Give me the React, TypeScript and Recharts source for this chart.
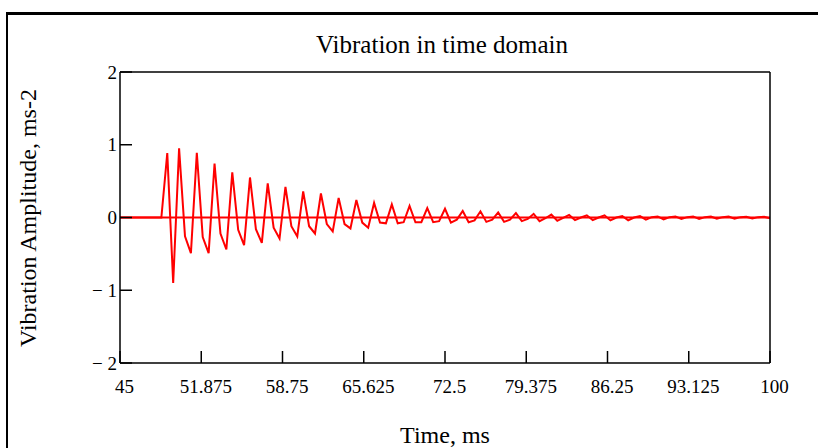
import {
  LineChart,
  Line,
  XAxis,
  YAxis,
  ReferenceLine,
} from "recharts";

const FONT = '"Liberation Serif", "Times New Roman", serif';

// sample times, ms (0.5 ms step)
const TIME = [
  45, 45.5, 46, 46.5, 47, 47.5, 48, 48.5, 49, 49.5,
  50, 50.5, 51, 51.5, 52, 52.5, 53, 53.5, 54, 54.5,
  55, 55.5, 56, 56.5, 57, 57.5, 58, 58.5, 59, 59.5,
  60, 60.5, 61, 61.5, 62, 62.5, 63, 63.5, 64, 64.5,
  65, 65.5, 66, 66.5, 67, 67.5, 68, 68.5, 69, 69.5,
  70, 70.5, 71, 71.5, 72, 72.5, 73, 73.5, 74, 74.5,
  75, 75.5, 76, 76.5, 77, 77.5, 78, 78.5, 79, 79.5,
  80, 80.5, 81, 81.5, 82, 82.5, 83, 83.5, 84, 84.5,
  85, 85.5, 86, 86.5, 87, 87.5, 88, 88.5, 89, 89.5,
  90, 90.5, 91, 91.5, 92, 92.5, 93, 93.5, 94, 94.5,
  95, 95.5, 96, 96.5, 97, 97.5, 98, 98.5, 99, 99.5,
  100,
];

// vibration amplitude, ms-2
const AMPLITUDE = [
  0, 0, 0, 0, 0, 0, 0, 0, 0.885, -0.9,
  0.95, -0.26, -0.49, 0.89, -0.27, -0.49, 0.74, -0.22, -0.44, 0.62,
  -0.17, -0.38, 0.55, -0.16, -0.35, 0.47, -0.14, -0.29, 0.42, -0.12,
  -0.26, 0.36, -0.12, -0.22, 0.33, -0.09, -0.19, 0.27, -0.09, -0.15,
  0.24, -0.07, -0.14, 0.2, -0.07, -0.08, 0.18, -0.08, -0.065, 0.16,
  -0.065, -0.065, 0.13, -0.065, -0.05, 0.12, -0.07, -0.03, 0.09, -0.065,
  -0.04, 0.085, -0.06, -0.03, 0.07, -0.06, -0.03, 0.06, -0.05, -0.02,
  0.05, -0.05, -0.01, 0.04, -0.045, -0.005, 0.035, -0.035, 0, 0.03,
  -0.035, 0, 0.03, -0.04, 0, 0.02, -0.04, 0, 0.02, -0.03,
  0.005, 0.015, -0.025, 0.005, 0.015, -0.02, 0.005, 0.015, -0.02, 0.005,
  0.012, -0.015, 0.005, 0.012, -0.015, 0.005, 0.01, -0.012, 0.005, 0.01,
  -0.01,
];

const X_TICKS = [45, 51.875, 58.75, 65.625, 72.5, 79.375, 86.25, 93.125, 100];
const Y_TICKS = [-2, -1, 0, 1, 2];

const data = TIME.map((t, i) => ({ t, v: AMPLITUDE[i] }));

const fmtY = (v: number) => (v < 0 ? `\u2212 ${Math.abs(v)}` : String(v));

export default function App() {
  return (
    <div style={{ position: "absolute", left: 0, top: 0, width: 818, height: 448 }}>
      {/* outer frame */}
      <div
        style={{
          position: "absolute",
          left: 6,
          top: 12,
          width: 812,
          height: 436,
          borderLeft: "2px solid #000",
          borderTop: "3px solid #000",
          boxSizing: "border-box",
        }}
      />
      <svg
        width={818}
        height={72}
        style={{ position: "absolute", left: 0, top: 0 }}
      >
        <text x={442} y={53} textAnchor="middle" fontFamily={FONT} fontSize={25} fill="#000">
          Vibration in time domain
        </text>
      </svg>
      <LineChart
        width={818}
        height={448}
        data={data}
        margin={{ top: 72, right: 0, bottom: 0, left: 0 }}
        style={{ position: "absolute", left: 0, top: 0 }}
      >
        <XAxis
          dataKey="t"
          type="number"
          domain={[45, 100]}
          ticks={X_TICKS}
          interval={0}
          allowDataOverflow
          height={85}
          tickSize={-12}
          tickMargin={29}
          tickLine={{ stroke: "#000", strokeWidth: 1.5 }}
          axisLine={{ stroke: "#000", strokeWidth: 1.5 }}
          tick={{ fill: "#000", fontSize: 19, fontFamily: FONT, dx: 4.5 }}
          tickFormatter={(v) => String(v)}
          label={{
            content: () => (
              <text x={445} y={443} textAnchor="middle" fontFamily={FONT} fontSize={24} fill="#000">
                Time, ms
              </text>
            ),
          }}
        />
        <YAxis
          type="number"
          domain={[-2, 2]}
          ticks={Y_TICKS}
          interval={0}
          width={120}
          tickSize={-12}
          tickMargin={15}
          tickLine={{ stroke: "#000", strokeWidth: 1.5 }}
          axisLine={{ stroke: "#000", strokeWidth: 1.5 }}
          tick={{ fill: "#000", fontSize: 19, fontFamily: FONT }}
          tickFormatter={fmtY}
          label={{
            content: () => (
              <text
                x={28}
                y={218}
                transform="rotate(-90 28 218)"
                textAnchor="middle"
                dominantBaseline="central"
                fontFamily={FONT}
                fontSize={24}
                fill="#000"
              >
                Vibration Amplitude, ms-2
              </text>
            ),
          }}
        />
        <YAxis
          yAxisId="right"
          orientation="right"
          type="number"
          domain={[-2, 2]}
          ticks={Y_TICKS}
          interval={0}
          width={48}
          tickSize={-12}
          tick={false}
          tickLine={{ stroke: "#000", strokeWidth: 1.5 }}
          axisLine={{ stroke: "#000", strokeWidth: 1.5 }}
        />
        {/* top edge of the plot box */}
        <ReferenceLine y={2} stroke="#000" strokeWidth={1.5} />
        <ReferenceLine y={0} stroke="#ff0000" strokeWidth={2} />
        <Line
          type="linear"
          dataKey="v"
          stroke="#ff0000"
          strokeWidth={2}
          dot={false}
          activeDot={false}
          isAnimationActive={false}
        />
      </LineChart>
    </div>
  );
}
